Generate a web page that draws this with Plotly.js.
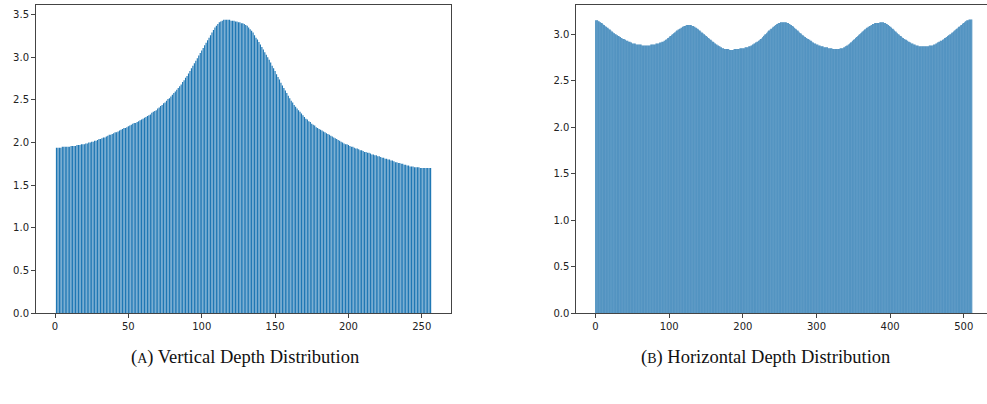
<!DOCTYPE html>
<html>
<head>
<meta charset="utf-8">
<script src="https://cdn.plot.ly/plotly-3.0.1.min.js"></script>
<style>
html,body{margin:0;padding:0;background:#fff;overflow:hidden}
#chart{width:987px;height:404px}
#chart .bars path{shape-rendering:geometricPrecision !important}
</style>
</head>
<body>
<div id="chart"></div>
<script>
// Vertical depth distribution (bars 1..256)
const verticalDepth = [
1.94,1.94,1.94,1.94,1.95,1.95,1.95,1.95,1.95,1.95,
1.96,1.96,1.96,1.96,1.97,1.97,1.97,1.98,1.98,1.98,
1.99,1.99,2.00,2.00,2.01,2.01,2.02,2.02,2.03,2.04,
2.04,2.05,2.06,2.06,2.07,2.08,2.09,2.09,2.10,2.11,
2.12,2.12,2.13,2.14,2.15,2.16,2.17,2.17,2.18,2.19,
2.20,2.21,2.22,2.23,2.23,2.24,2.25,2.26,2.27,2.28,
2.29,2.30,2.31,2.32,2.33,2.35,2.36,2.37,2.38,2.40,
2.41,2.43,2.44,2.46,2.47,2.49,2.51,2.52,2.54,2.56,
2.58,2.60,2.62,2.64,2.66,2.68,2.71,2.73,2.76,2.78,
2.81,2.84,2.87,2.90,2.93,2.96,2.99,3.02,3.05,3.08,
3.11,3.14,3.17,3.20,3.23,3.26,3.29,3.32,3.35,3.37,
3.39,3.41,3.42,3.43,3.44,3.44,3.44,3.44,3.44,3.43,
3.43,3.43,3.42,3.42,3.41,3.41,3.40,3.40,3.39,3.38,
3.37,3.35,3.33,3.31,3.29,3.26,3.23,3.21,3.18,3.15,
3.12,3.09,3.06,3.03,3.00,2.97,2.94,2.90,2.87,2.84,
2.80,2.77,2.74,2.70,2.67,2.64,2.61,2.58,2.55,2.52,
2.49,2.47,2.44,2.42,2.40,2.38,2.36,2.34,2.32,2.30,
2.28,2.27,2.25,2.24,2.22,2.21,2.20,2.18,2.17,2.16,
2.15,2.14,2.13,2.12,2.11,2.10,2.09,2.08,2.07,2.06,
2.05,2.04,2.03,2.02,2.01,2.00,1.99,1.98,1.98,1.97,
1.96,1.95,1.95,1.94,1.93,1.93,1.92,1.91,1.91,1.90,
1.89,1.89,1.88,1.88,1.87,1.86,1.86,1.85,1.85,1.84,
1.84,1.83,1.82,1.82,1.81,1.81,1.80,1.80,1.79,1.79,
1.78,1.77,1.77,1.76,1.76,1.75,1.75,1.74,1.74,1.73,
1.73,1.72,1.72,1.72,1.71,1.71,1.71,1.71,1.70,1.70,
1.70,1.70,1.70,1.70,1.70,1.70
];

// Horizontal depth distribution (bars 0..511)
const horizontalDepth = [
3.15,3.15,3.15,3.15,3.14,3.14,3.13,3.13,3.12,3.12,
3.11,3.10,3.10,3.09,3.08,3.08,3.07,3.07,3.06,3.05,
3.05,3.04,3.03,3.03,3.02,3.01,3.01,3.00,3.00,2.99,
2.99,2.98,2.98,2.97,2.97,2.96,2.96,2.95,2.95,2.95,
2.94,2.94,2.93,2.93,2.93,2.92,2.92,2.92,2.91,2.91,
2.90,2.90,2.90,2.90,2.90,2.89,2.89,2.89,2.89,2.89,
2.89,2.89,2.89,2.88,2.88,2.88,2.88,2.88,2.88,2.88,
2.88,2.88,2.88,2.88,2.88,2.89,2.89,2.89,2.89,2.89,
2.89,2.89,2.90,2.90,2.90,2.90,2.90,2.91,2.91,2.91,
2.92,2.92,2.92,2.93,2.93,2.94,2.94,2.95,2.96,2.96,
2.97,2.98,2.98,2.99,3.00,3.00,3.01,3.02,3.02,3.03,
3.04,3.04,3.05,3.05,3.06,3.06,3.07,3.07,3.08,3.08,
3.09,3.09,3.09,3.10,3.10,3.10,3.10,3.10,3.10,3.10,
3.10,3.09,3.09,3.09,3.08,3.08,3.07,3.07,3.06,3.06,
3.05,3.04,3.04,3.03,3.02,3.02,3.01,3.00,3.00,2.99,
2.98,2.98,2.97,2.96,2.96,2.95,2.94,2.94,2.93,2.92,
2.92,2.91,2.90,2.90,2.89,2.89,2.88,2.88,2.87,2.87,
2.86,2.86,2.85,2.85,2.85,2.84,2.84,2.84,2.84,2.84,
2.84,2.84,2.83,2.83,2.83,2.83,2.83,2.83,2.84,2.84,
2.84,2.84,2.84,2.84,2.84,2.84,2.85,2.85,2.85,2.85,
2.85,2.85,2.85,2.86,2.86,2.86,2.86,2.86,2.87,2.87,
2.87,2.88,2.88,2.89,2.89,2.90,2.90,2.91,2.91,2.92,
2.92,2.93,2.93,2.94,2.95,2.95,2.96,2.97,2.98,2.99,
3.00,3.00,3.01,3.02,3.03,3.04,3.04,3.05,3.06,3.06,
3.07,3.08,3.08,3.09,3.10,3.10,3.11,3.11,3.12,3.12,
3.12,3.13,3.13,3.13,3.13,3.13,3.13,3.13,3.13,3.13,
3.12,3.12,3.12,3.11,3.11,3.10,3.10,3.09,3.09,3.08,
3.07,3.06,3.06,3.05,3.04,3.04,3.03,3.02,3.01,3.01,
3.00,2.99,2.99,2.98,2.97,2.97,2.96,2.96,2.95,2.95,
2.94,2.94,2.93,2.93,2.92,2.91,2.91,2.90,2.90,2.90,
2.89,2.89,2.89,2.88,2.88,2.88,2.87,2.87,2.87,2.87,
2.86,2.86,2.86,2.86,2.86,2.86,2.85,2.85,2.85,2.85,
2.85,2.85,2.84,2.84,2.84,2.84,2.84,2.84,2.84,2.84,
2.84,2.84,2.85,2.85,2.85,2.85,2.85,2.86,2.86,2.87,
2.87,2.88,2.88,2.89,2.89,2.90,2.91,2.91,2.92,2.93,
2.94,2.94,2.95,2.96,2.97,2.97,2.98,2.99,3.00,3.00,
3.01,3.02,3.03,3.03,3.04,3.05,3.05,3.06,3.07,3.07,
3.08,3.08,3.09,3.09,3.10,3.10,3.11,3.11,3.11,3.12,
3.12,3.12,3.12,3.12,3.12,3.12,3.13,3.13,3.13,3.13,
3.13,3.13,3.12,3.12,3.12,3.11,3.11,3.10,3.10,3.09,
3.08,3.08,3.07,3.06,3.06,3.05,3.04,3.03,3.03,3.02,
3.01,3.00,3.00,2.99,2.98,2.98,2.97,2.96,2.96,2.95,
2.95,2.94,2.94,2.93,2.93,2.92,2.92,2.91,2.91,2.90,
2.90,2.90,2.89,2.89,2.89,2.88,2.88,2.88,2.88,2.87,
2.87,2.87,2.87,2.87,2.87,2.87,2.87,2.87,2.87,2.87,
2.87,2.87,2.87,2.88,2.88,2.88,2.88,2.88,2.88,2.89,
2.89,2.89,2.90,2.90,2.91,2.91,2.92,2.92,2.93,2.93,
2.93,2.94,2.94,2.95,2.96,2.96,2.97,2.97,2.98,2.99,
2.99,3.00,3.00,3.01,3.02,3.02,3.03,3.04,3.04,3.05,
3.06,3.06,3.07,3.08,3.08,3.09,3.10,3.10,3.11,3.12,
3.12,3.13,3.14,3.14,3.15,3.15,3.15,3.16,3.16,3.16,
3.16,3.16
];

const leftXTicks = [0, 50, 100, 150, 200, 250];
const rightXTicks = [0, 100, 200, 300, 400, 500];
const leftYTicks = [0, 0.5, 1.0, 1.5, 2.0, 2.5, 3.0, 3.5];
const rightYTicks = [0, 0.5, 1.0, 1.5, 2.0, 2.5, 3.0];
const captionA = '(<span style="font-size:14px">A</span>) Vertical Depth Distribution';
const captionB = '(<span style="font-size:14px">B</span>) Horizontal Depth Distribution';

const xLeft = verticalDepth.map((_, i) => i + 1);
const xRight = horizontalDepth.map((_, i) => i);

const barColor = '#1f77b4';
const traces = [
  {type: 'bar', x: xLeft, y: verticalDepth, width: 0.8, xaxis: 'x', yaxis: 'y',
   marker: {color: barColor, line: {width: 0}}, hoverinfo: 'skip'},
  {type: 'bar', x: xRight, y: horizontalDepth, width: 1.0, xaxis: 'x2', yaxis: 'y2',
   marker: {color: '#2a7ab3', line: {width: 0}}, hoverinfo: 'skip'}
];

const tickFont = {family: 'DejaVu Sans', size: 10, color: '#222'};
const axBase = {
  showgrid: false, zeroline: false, showline: true, linecolor: '#444', linewidth: 1,
  ticks: 'outside', ticklen: 4, tickwidth: 1, tickcolor: '#444', tickfont: tickFont,
  fixedrange: true
};

const layout = {
  width: 987, height: 404,
  margin: {l: 0, r: 0, t: 0, b: 0},
  paper_bgcolor: '#fff', plot_bgcolor: '#fff',
  showlegend: false,
  bargap: 0,
  xaxis: Object.assign({}, axBase, {domain: [36/987, 450.7/987], range: [-12.95, 269.7],
    tickvals: leftXTicks, ticktext: leftXTicks.map(String), mirror: true, anchor: 'y'}),
  yaxis: Object.assign({}, axBase, {domain: [91/404, 399.3/404], range: [0, 3.617],
    tickvals: leftYTicks, ticktext: leftYTicks.map(v => v.toFixed(1)), mirror: true, anchor: 'x'}),
  xaxis2: Object.assign({}, axBase, {domain: [576.3/987, 1], range: [-26.1, 531.5],
    tickvals: rightXTicks, ticktext: rightXTicks.map(String), mirror: true, anchor: 'y2'}),
  yaxis2: Object.assign({}, axBase, {domain: [91/404, 399.3/404], range: [0, 3.318],
    tickvals: rightYTicks, ticktext: rightYTicks.map(v => v.toFixed(1)), mirror: false, anchor: 'x2'}),
  annotations: [
    {text: captionA, xref: 'paper', yref: 'paper', x: 245/987, y: (404-357)/404,
     xanchor: 'center', yanchor: 'middle', showarrow: false,
     font: {family: 'Liberation Serif', size: 18.5, color: '#111'}},
    {text: captionB, xref: 'paper', yref: 'paper', x: 765/987, y: (404-357)/404,
     xanchor: 'center', yanchor: 'middle', showarrow: false,
     font: {family: 'Liberation Serif', size: 18.5, color: '#111'}}
  ]
};

Plotly.newPlot('chart', traces, layout, {staticPlot: true, displayModeBar: false});
</script>
</body>
</html>
